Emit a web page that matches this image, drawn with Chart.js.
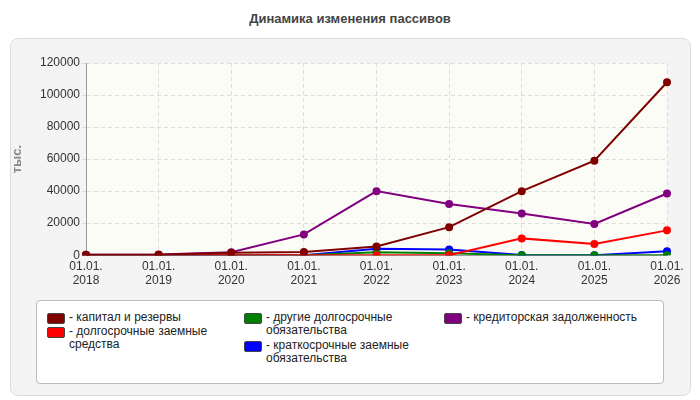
<!DOCTYPE html>
<html><head><meta charset="utf-8">
<script src="https://cdn.jsdelivr.net/npm/chart.js@4/dist/chart.umd.min.js"></script>
<style>
body{margin:0;width:700px;height:400px;background:#fff;font-family:"Liberation Sans",Arial,sans-serif;position:relative;overflow:hidden}
#title{position:absolute;top:11px;left:0;width:700px;text-align:center;font-weight:bold;font-size:13px;color:#444}
#panel{position:absolute;left:10px;top:38px;width:679px;height:356px;background:#f4f4f4;border:1px solid #ddd;border-radius:8px}
canvas{position:absolute;left:0;top:0}
#legend{position:absolute;left:36px;top:300px;width:626px;height:82px;background:#fff;border:1px solid #bbb;border-radius:4px;font-size:12px;color:#222}
.it{position:absolute;display:flex;line-height:13px}
.sw{width:16px;height:9px;margin-top:2px;margin-right:4px;border:1px solid #444;border-radius:2px;flex:none}
</style></head><body>
<div id="title">Динамика изменения пассивов</div>
<div id="panel"></div>
<canvas id="c" width="700" height="400"></canvas>
<div id="legend"></div>
<script>
const labels=[["01.01.","2018"],["01.01.","2019"],["01.01.","2020"],["01.01.","2021"],["01.01.","2022"],["01.01.","2023"],["01.01.","2024"],["01.01.","2025"],["01.01.","2026"]];
const seriesNames=["капитал и резервы","долгосрочные заемные средства","другие долгосрочные обязательства","краткосрочные заемные обязательства","кредиторская задолженность"];
const colors=["#800000","#ff0000","#008000","#0000ff","#800080"];
const capital=[300,300,1500,2000,5500,17500,40000,59000,108000];
const longLoans=[0,0,0,0,0,0,10500,7000,15500];
const otherLong=[0,0,0,0,1800,1200,0,0,0];
const shortLoans=[0,0,0,0,4000,3500,200,0,2500];
const payables=[300,500,1800,13000,40000,32000,26000,19500,38500];
const yTicks=[0,20000,40000,60000,80000,100000,120000];
const values=[capital,longLoans,otherLong,shortLoans,payables];
const legendPos=[[10,10,"190px"],[10,24,"190px"],[207,10,"190px"],[207,38,"190px"],[407,10,"215px"]];
const lg=document.getElementById('legend');
seriesNames.forEach((n,i)=>{const d=document.createElement('div');d.className='it';d.style.left=legendPos[i][0]+'px';d.style.top=legendPos[i][1]+'px';d.style.width=legendPos[i][2];d.innerHTML='<span class="sw" style="background:'+colors[i]+'"></span><span>- '+n+'</span>';lg.appendChild(d);});
const bgPlugin={id:'bg',beforeDraw(ch){const a=ch.chartArea,c=ch.ctx;c.save();c.fillStyle='#fcfcf6';c.fillRect(a.left,a.top,a.right-a.left,a.bottom-a.top);c.restore();}};
new Chart(document.getElementById('c'),{type:'line',
data:{labels,datasets:values.map((v,i)=>({label:seriesNames[i],data:v,borderColor:colors[i],backgroundColor:colors[i],borderWidth:2,pointRadius:3,pointHoverRadius:3,tension:0}))},
options:{responsive:false,animation:false,
layout:{padding:{left:10,top:63,right:33,bottom:108}},
plugins:{legend:{display:false},tooltip:{enabled:false}},
scales:{
x:{grid:{color:'#ddd',tickLength:0,drawTicks:false},border:{dash:[4,3],color:'#999'},ticks:{color:'#333',font:{family:'Liberation Sans',size:12},maxRotation:0,padding:4}},
y:{min:0,max:120000,afterFit(s){s.width=76;},afterBuildTicks(s){s.ticks=yTicks.map(v=>({value:v}));},grid:{color:'#ddd',tickLength:4},border:{dash:[4,3],color:'#999'},
ticks:{color:'#333',font:{family:'Liberation Sans',size:12},padding:2,callback:v=>String(v)},
title:{display:true,text:'тыс.',color:'#888',font:{family:'Liberation Sans',size:13,weight:'bold'},padding:0}}}},
plugins:[bgPlugin]});
</script></body></html>
